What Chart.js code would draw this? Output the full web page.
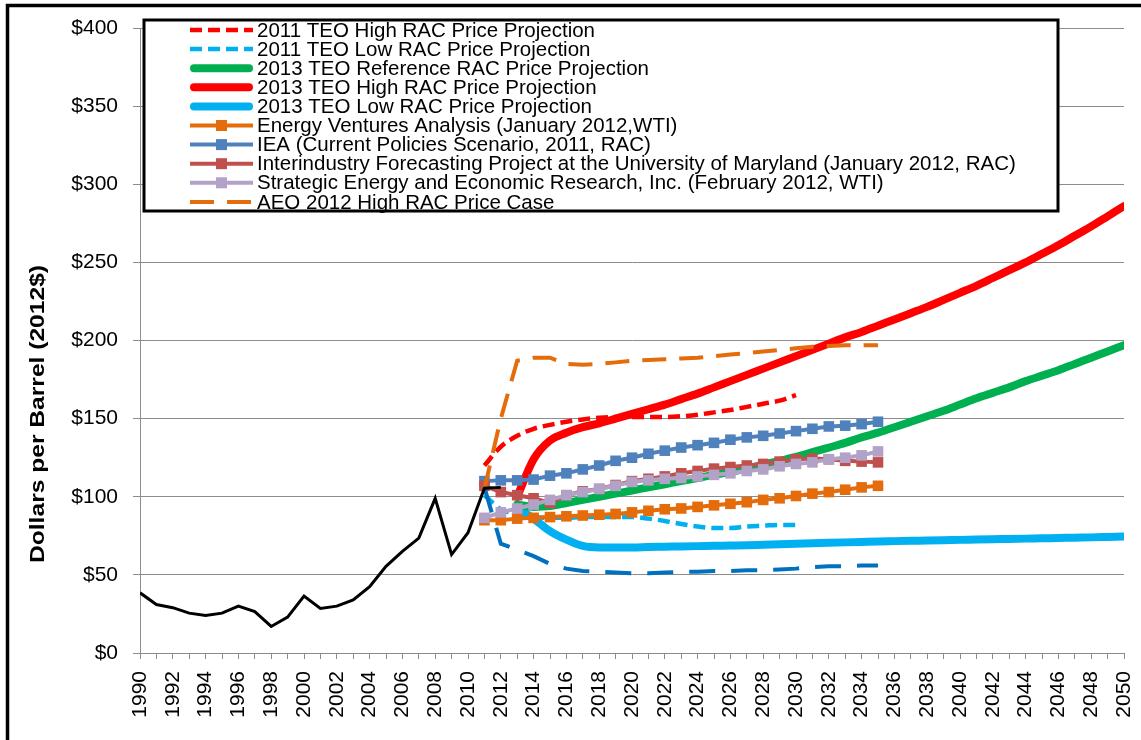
<!DOCTYPE html>
<html>
<head>
<meta charset="utf-8">
<script src="https://cdn.jsdelivr.net/npm/chart.js@4.4.1/dist/chart.umd.min.js"></script>
<style>
	html, body { margin: 0; padding: 0; background: #fff; }
	#myChart { display: block; }
</style>
</head>
<body>
<canvas id="myChart" width="1141" height="740"></canvas>
<script>
// historical RAC price
var histStart = 1990;
var histPrice = [38.5, 31, 29, 25.5, 24, 25.5, 30, 26.5, 17, 23, 36.5, 28.5, 30, 34, 42.5, 55.5, 65, 73.5, 99, 63, 77, 105.5, 106];

// 2011 TEO (2011-2030)
var teo2011Start = 2011;
var teo2011High = [120, 132, 139, 143.5, 146, 148, 149.5, 150.5, 151, 151, 151, 151, 151.5, 152.5, 154, 155.5, 157.5, 159.5, 161.5, 165];
var teo2011Low = [101, 92, 89, 87, 86.5, 86.5, 87, 87, 87, 87, 86, 84.5, 82.5, 81, 80, 80, 81, 81.5, 82, 82];

// 2013 TEO (2013-2050)
var teo2013Start = 2013;
var teo2013Ref = [95, 93.5, 94, 96, 98, 100, 102, 104, 106, 108, 110, 112, 114, 116, 118, 120.5, 123, 125.5, 128.5, 131.5, 134.5, 138, 141, 144.5, 148, 151.5, 155, 159, 163, 166.5, 170, 174, 177.5, 181, 185, 189, 193, 197];
var teo2013High = [100, 124, 136, 141, 144.5, 147, 150, 153, 156, 159, 162.5, 166, 170, 174, 178, 182, 186, 190, 194, 198, 202, 205.5, 209.5, 213.5, 217.5, 221.5, 226, 230.5, 235, 240, 245, 250, 255.5, 261, 267, 273, 279.5, 286];
var teo2013Low = [93, 86, 78, 72.5, 68.5, 67.5, 67.5, 67.5, 67.8, 68, 68.2, 68.4, 68.6, 68.8, 69, 69.3, 69.6, 69.9, 70.2, 70.5, 70.8, 71.1, 71.4, 71.6, 71.8, 72, 72.2, 72.4, 72.6, 72.8, 73, 73.2, 73.4, 73.6, 73.8, 74, 74.3, 74.6];

// other forecasts (2011-2035)
var fcStart = 2011;
var energyVentures = [85, 85, 86, 86.5, 87, 87.5, 88, 88.5, 89, 90, 91, 92, 92.5, 93.5, 94.5, 95.5, 96.5, 98, 99, 100.5, 102, 103, 104.5, 106, 107];
var iea = [110, 110.5, 110.5, 111, 113.5, 115, 117.5, 120, 123, 125, 127.5, 129.5, 131.5, 133, 134.5, 136.5, 138, 139, 140.5, 142, 143.5, 145, 145.5, 146.5, 148];
var interindustry = [107, 103, 101, 99, 96, 101, 103.5, 105, 107.5, 110, 111.5, 113, 115, 116.5, 118, 119, 120, 121, 122.5, 124, 124.5, 124, 123, 122.5, 122];
var strategic = [86.5, 90, 92.5, 95, 98, 101, 103, 105, 107, 109.5, 110.5, 111.5, 112, 113, 114, 115, 116.5, 117.5, 119.5, 121, 122, 124, 125, 126.5, 129];
var aeoHigh = [105, 150, 187, 189, 189, 185, 184.5, 185, 186, 187, 187.5, 188, 188.5, 189, 190, 191, 192, 193, 194, 195, 196, 196.5, 197, 197, 197];
var aeoLow = [106, 70, 66, 62, 57, 54, 52.5, 52, 51.5, 51, 51, 51.5, 52, 52, 52.5, 52.5, 53, 53, 53.5, 54, 55, 55.5, 55.5, 56, 56];

var yTicks = [0, 50, 100, 150, 200, 250, 300, 350, 400];

function pts(start, vals) {
	return vals.map(function(v, i) { return {x: start + i, y: v}; });
}

var tickFont = {family: '"Liberation Sans", Arial, sans-serif', size: 21};

function markerSet(label, color, vals, order) {
	return {
		label: label, data: pts(fcStart, vals), borderColor: color, backgroundColor: color,
		borderWidth: 4, pointStyle: 'rect', pointRadius: 7.5, pointBorderWidth: 0,
		order: order, showInLegend: true, marker: true
	};
}

var datasets = [
	{label: '2011 TEO High RAC Price Projection', data: pts(teo2011Start, teo2011High), borderColor: '#ff0000', borderWidth: 4.5, borderDash: [12, 6], cubicInterpolationMode: 'monotone', pointRadius: 0, order: 7, showInLegend: true},
	{label: '2011 TEO Low RAC Price Projection', data: pts(teo2011Start, teo2011Low), borderColor: '#00b0f0', borderWidth: 4.5, borderDash: [12, 6], cubicInterpolationMode: 'monotone', pointRadius: 0, order: 8, showInLegend: true},
	{label: '2013 TEO Reference RAC Price Projection', data: pts(teo2013Start, teo2013Ref), borderColor: '#00b050', borderWidth: 8, borderCapStyle: 'round', cubicInterpolationMode: 'monotone', pointRadius: 0, order: 10, showInLegend: true},
	{label: '2013 TEO High RAC Price Projection', data: pts(teo2013Start, teo2013High), borderColor: '#ff0000', borderWidth: 8, borderCapStyle: 'round', cubicInterpolationMode: 'monotone', pointRadius: 0, order: 9, showInLegend: true},
	{label: '2013 TEO Low RAC Price Projection', data: pts(teo2013Start, teo2013Low), borderColor: '#00b0f0', borderWidth: 8, borderCapStyle: 'round', cubicInterpolationMode: 'monotone', pointRadius: 0, order: 11, showInLegend: true},
	markerSet('Energy Ventures Analysis (January 2012,WTI)', '#e46c0a', energyVentures, 6),
	markerSet('IEA (Current Policies Scenario, 2011, RAC)', '#4f81bd', iea, 5),
	markerSet('Interindustry Forecasting Project at the University of Maryland (January 2012, RAC)', '#c0504d', interindustry, 4),
	markerSet('Strategic Energy and Economic Research, Inc. (February 2012, WTI)', '#b3a2c7', strategic, 3),
	{label: 'AEO 2012 High RAC Price Case', data: pts(fcStart, aeoHigh), borderColor: '#e46c0a', borderWidth: 4, borderDash: [24, 13], pointRadius: 0, order: 1, showInLegend: true},
	{label: 'AEO 2012 Low RAC Price Case', data: pts(fcStart, aeoLow), borderColor: '#0070c0', borderWidth: 4, borderDash: [26, 16], pointRadius: 0, order: 2, showInLegend: false},
	{label: 'History', data: pts(histStart, histPrice), borderColor: '#000000', borderWidth: 3, pointRadius: 0, order: 0, showInLegend: false}
];

var decor = {
	id: 'decor',
	afterDraw: function(chart) {
		var ctx = chart.ctx;
		ctx.save();
		// outer frame (top and left)
		ctx.strokeStyle = '#000';
		ctx.lineWidth = 3.5;
		ctx.beginPath();
		ctx.moveTo(7.5, 740);
		ctx.lineTo(7.5, 5.5);
		ctx.lineTo(1141, 5.5);
		ctx.stroke();

		// y axis title
		ctx.save();
		ctx.translate(38.5, 414);
		ctx.rotate(-Math.PI / 2);
		ctx.font = 'bold 20px "Liberation Sans", Arial, sans-serif';
		var title = 'Dollars per Barrel (2012$)';
		var tw = ctx.measureText(title).width;
		ctx.scale(298 / tw, 1);
		ctx.fillStyle = '#000';
		ctx.textAlign = 'center';
		ctx.textBaseline = 'middle';
		ctx.fillText(title, 0, 0);
		ctx.restore();

		// legend box
		ctx.fillStyle = '#fff';
		ctx.fillRect(144, 20, 914, 191);
		ctx.lineWidth = 3;
		ctx.strokeStyle = '#000';
		ctx.strokeRect(144, 20, 914, 191);

		var items = chart.data.datasets.filter(function(d) { return d.showInLegend; });
		ctx.font = '20.5px "Liberation Sans", Arial, sans-serif';
		ctx.textAlign = 'left';
		ctx.textBaseline = 'middle';
		items.forEach(function(d, i) {
			var y = 30 + i * 19.1;
			ctx.save();
			ctx.strokeStyle = d.borderColor;
			ctx.lineWidth = d.borderWidth;
			ctx.setLineDash(d.borderDash || []);
			ctx.lineCap = d.borderWidth >= 8 ? 'round' : 'butt';
			ctx.beginPath();
			ctx.moveTo(d.borderWidth >= 8 ? 194 : 190, y);
			ctx.lineTo(d.borderWidth >= 8 ? 249 : 253, y);
			ctx.stroke();
			if (d.marker) {
				ctx.fillStyle = d.backgroundColor;
				ctx.fillRect(216, y - 5.5, 11, 11);
			}
			ctx.restore();
			ctx.fillStyle = '#000';
			ctx.fillText(d.label, 257, y + 1);
		});
		ctx.restore();
	}
};

new Chart('myChart', {
	type: 'line',
	data: {datasets: datasets},
	options: {
		responsive: false,
		animation: false,
		layout: {padding: {top: 28, right: 0, left: 10, bottom: 0}},
		plugins: {legend: {display: false}, tooltip: {enabled: false}},
		scales: {
			x: {
				type: 'linear', min: 1990, max: 2050,
				afterFit: function(s) { s.height = 87; s.paddingRight = 17; s.paddingLeft = 0; },
				ticks: {
					stepSize: 1, autoSkip: false, maxRotation: 90, minRotation: 90, padding: 12,
					font: tickFont, color: '#000',
					callback: function(v) { return v % 2 === 0 ? String(v) : ''; }
				},
				grid: {drawOnChartArea: false, tickLength: 6, color: '#8c8c8c'},
				border: {color: '#8c8c8c'}
			},
			y: {
				min: 0, max: 400,
				afterFit: function(s) { s.width = 130; },
				afterBuildTicks: function(s) { s.ticks = yTicks.map(function(v) { return {value: v}; }); },
				ticks: {
					padding: 15, font: tickFont, color: '#000',
					callback: function(v) { return '$' + v; }
				},
				grid: {tickLength: 7, color: '#8c8c8c'},
				border: {color: '#8c8c8c'}
			}
		}
	},
	plugins: [decor]
});
</script>
</body>
</html>
